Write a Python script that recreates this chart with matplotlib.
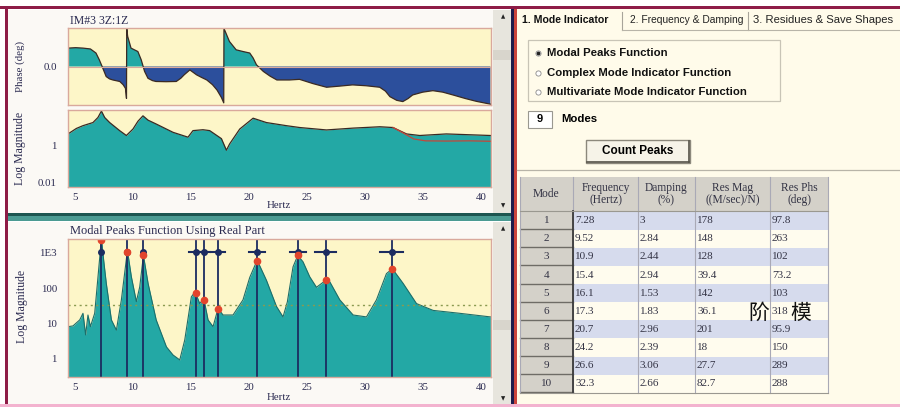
import matplotlib
matplotlib.use("Agg")
import numpy as np
import matplotlib.pyplot as plt
from matplotlib.patches import Rectangle

W, H = 900, 407

# ---- curves (Hz, value) ----
phase_hz = [4.4, 5.06, 5.69, 6.33, 6.81, 7.1, 7.4, 7.69, 7.98, 8.27, 8.86, 9.15,
            9.35, 9.44, 9.46, 9.54, 9.83, 10.12, 10.42, 10.71, 11.0, 11.29, 11.68,
            11.98, 12.85, 13.73, 14.12, 14.41, 14.9, 15.48, 15.87, 16.36, 16.85,
            17.24, 17.62, 17.82, 17.84, 18.01, 18.31, 18.89, 19.48, 20.06, 20.35,
            20.64, 21.23, 21.81, 22.4, 23.47, 24.35, 25.51, 26.68, 27.75, 28.92,
            30.09, 31.26, 31.75, 32.14, 32.72, 33.25, 33.7, 34.1, 34.96, 35.84,
            36.7, 37.57, 38.66, 39.6, 40.8]
phase_deg = [86, 88, 86, 82, 63, 31, -8, -47, -58, -63, -70, -85,
             -102, -149, 180, 141, 86, 78, 70, 31, -23, -55, -66,
             -70, -71, -70, -55, -39, -16, -39, -50, -63, -85,
             -110, -145, -170, 178, 156, 117, 78, 70, 63, 40,
             8, -23, -45, -63, -63, -60, -80, -97, -92, -86,
             -90, -97, -115, -141, -158, -164, -150, -133, -120, -113,
             -120, -133, -150, -163, -176]

mag_hz = [4.4, 5.12, 5.69, 6.55, 6.98, 7.28, 7.56, 7.99, 8.85, 9.43, 10.0, 10.43,
          10.86, 11.3, 12.0, 13.45, 14.74, 15.17, 16.03, 16.61, 17.62, 18.05,
          18.33, 19.2, 20.35, 21.5, 23.22, 24.37, 26.67, 28.97, 31.27, 32.41,
          33.57, 34.71, 37.0, 40.8]
mag_val = [4.5, 8.9, 12.6, 18.6, 35, 78, 35, 18.6, 6.8, 3.7, 8.3, 22,
           43, 25, 15.5, 5.5, 3.0, 6.8, 7.6, 6.8, 2.5, 0.59,
           1.3, 8.3, 32, 18.6, 12.6, 10, 7.4, 9.3, 11, 10,
           4.5, 3.7, 4.5, 3.7]
fit_hz = [32.41, 33.3, 34.2, 35.2, 37.0, 39.0, 40.8]
fit_val = [10, 5.0, 2.4, 1.9, 1.85, 1.9, 1.8]

mpf_hz = [4.4, 4.83, 5.41, 5.69, 5.92, 6.12, 6.33, 6.7, 6.98, 7.28, 7.47, 7.7,
          8.14, 8.57, 9.0, 9.52, 9.86, 10.29, 10.58, 10.9, 11.3, 12.0, 12.88,
          13.45, 14.03, 14.46, 15.03, 15.35, 15.75, 16.1, 16.47, 16.9, 17.33,
          17.76, 18.62, 19.48, 20.06, 20.7, 21.5, 22.36, 22.93, 23.3, 23.79,
          24.2, 24.65, 25.23, 25.81, 26.55, 26.96, 27.82, 28.97, 30.12, 30.98,
          31.84, 32.35, 33.28, 34.43, 35.86, 38.16, 40.8]
mpf_val = [7.9, 8.3, 12.3, 19, 4.6, 17, 7.9, 19, 200, 2570, 630, 135,
           12.3, 6.3, 46, 1175, 209, 41, 107, 850, 135, 12.3, 2.1,
           1.23, 0.89, 3.3, 56, 78, 36, 50, 12.3, 7.9, 26,
           17, 17, 46, 200, 620, 166, 30, 15, 40, 400,
           850, 560, 209, 105, 160, 150, 46, 17, 15, 46,
           257, 355, 135, 36, 23, 19, 15]

# ---- modes table ----
mode_no = [1, 2, 3, 4, 5, 6, 7, 8, 9, 10]
mode_freq = [7.28, 9.52, 10.9, 15.4, 16.1, 17.3, 20.7, 24.2, 26.6, 32.3]
mode_damp = [3, 2.84, 2.44, 2.94, 1.53, 1.83, 2.96, 2.39, 3.06, 2.66]
mode_resmag = [178, 148, 128, 39.4, 142, 36.1, 201, 18, 27.7, 82.7]
mode_resphs = [97.8, 263, 102, 73.2, 103, 318, 95.9, 150, 289, 288]
peak_mag = [2400, 1070, 850, 73, 47, 25, 580, 860, 167, 355]
peak_halfwidth = [0, 0, 0, 0.6, 0.5, 0.6, 0.7, 0.7, 0.9, 1.0]
peak_level = 1070
threshold = 32

hz_ticks = [5, 10, 15, 20, 25, 30, 35, 40]
mag_ticks = [0.01, 1]
mag_labels = ["0.01", "1"]
mpf_ticks = [1, 10, 100, 1000]
mpf_labels = ["1", "10", "100", "1E3"]
headers = ["Mode", "Frequency\n(Hertz)", "Damping\n(%)", "Res Mag\n((M/sec)/N)", "Res Phs\n(deg)"]

TEAL = "#23a8a5"
BLUE = "#2c4f9c"
CREAM = "#fdf6c8"
EDGE = "#d9a99c"
LINE = "#3a2a24"
NAVY = "#1c2c60"
TXT = "#2a2a50"
SERIF = "Liberation Serif"
SANS = "Liberation Sans"

fig = plt.figure(figsize=(9, 4.07), dpi=100)
fig.patch.set_facecolor("white")


def px_axes(x0, y0, x1, y1):
    return fig.add_axes([x0 / W, 1 - y1 / H, (x1 - x0) / W, (y1 - y0) / H])


# ---- window chrome in pixel coordinates ----
ui = fig.add_axes([0, 0, 1, 1])
ui.set_xlim(0, W)
ui.set_ylim(H, 0)
ui.axis("off")


def rect(x, y, w, h, fc, ec="none", lw=0.8, z=1):
    ui.add_patch(Rectangle((x, y), w, h, facecolor=fc, edgecolor=ec, linewidth=lw, zorder=z))


rect(8, 10, 485, 203, "#fbf9f5")
rect(8, 222, 485, 183, "#fbf9f5")
rect(493, 10, 19, 203, "#e7e5dd")
rect(493, 222, 19, 183, "#e7e5dd")
rect(493, 50, 19, 10, "#d8d5cc")
rect(493, 320, 19, 10, "#d8d5cc")
for yy, s in [(17, "▲"), (206, "▼"), (229, "▲"), (399, "▼")]:
    ui.text(503, yy, s, fontsize=4, ha="center", va="center", color="#222222", zorder=3)
rect(8, 213, 505, 3, "#1d5650")
rect(8, 216, 505, 5, "#4b9b92")
rect(0, 6, W, 3, "#8e1c47", z=4)
rect(5, 6, 3, 401, "#8e1c47", z=4)
rect(511, 9, 3, 398, "#1c1c4c", z=4)
rect(514, 9, 3, 398, "#c9443c", z=4)
rect(517, 9, 383, 398, "#fffbea")
rect(0, 404, W, 3, "#f3b3cf", z=4)

ui.text(70, 21, "IM#3 3Z:1Z", fontsize=8.5, family=SERIF, color=TXT, va="center")
ui.text(70, 231, "Modal Peaks Function Using Real Part", fontsize=9, family=SERIF,
        color=TXT, va="center")
ui.text(20, 66, "Phase (deg)", rotation=90, fontsize=7.8, family=SERIF, color=TXT,
        ha="center", va="center")
ui.text(20, 148, "Log Magnitude", rotation=90, fontsize=8.5, family=SERIF, color=TXT,
        ha="center", va="center")
ui.text(22, 306, "Log Magnitude", rotation=90, fontsize=8.5, family=SERIF, color=TXT,
        ha="center", va="center")
ui.text(279, 206, "Hertz", fontsize=7.8, family=SERIF, color=TXT, ha="center", va="center")
ui.text(279, 398, "Hertz", fontsize=7.8, family=SERIF, color=TXT, ha="center", va="center")


def style(ax):
    ax.set_facecolor(CREAM)
    for sp in ax.spines.values():
        sp.set_color(EDGE)
        sp.set_linewidth(1.0)
    ax.tick_params(length=0, labelsize=7.8, colors=TXT)
    ax.tick_params(axis="x", pad=4)
    ax.tick_params(axis="y", pad=8)
    for lab in ax.get_xticklabels() + ax.get_yticklabels():
        lab.set_family(SERIF)
    ax.set_xlim(4.4, 40.85)


# ---- phase ----
ph = np.array(phase_deg)
ax1 = px_axes(68, 28, 491, 105)
ax1.fill_between(phase_hz, ph, 0, where=ph >= 0, interpolate=True, color=TEAL, lw=0)
ax1.fill_between(phase_hz, ph, 0, where=ph <= 0, interpolate=True, color=BLUE, lw=0)
ax1.plot(phase_hz, ph, color=LINE, lw=0.9)
ax1.axhline(0, color=EDGE, lw=0.8)
ax1.set_ylim(-180, 180)
ax1.set_xticks([])
ax1.set_yticks([0], ["0.0"])
style(ax1)

# ---- magnitude ----
ax2 = px_axes(68, 110, 491, 187)
ax2.set_yscale("log")
ax2.fill_between(mag_hz, mag_val, 1e-4, color=TEAL, lw=0)
ax2.plot(mag_hz, mag_val, color=LINE, lw=0.9)
ax2.plot(fit_hz, fit_val, color="#c4473a", lw=0.9)
ax2.set_ylim(0.006, 89)
ax2.set_xticks(hz_ticks, [str(t) for t in hz_ticks])
ax2.set_yticks(mag_ticks, mag_labels)
ax2.minorticks_off()
style(ax2)

# ---- modal peaks function ----
ax3 = px_axes(68, 239, 491, 377)
ax3.set_yscale("log")
ax3.fill_between(mpf_hz, mpf_val, 1e-3, color=TEAL, lw=0)
ax3.plot(mpf_hz, mpf_val, color="#1d6e6a", lw=0.8)
ax3.axhline(threshold, color="#8a9a50", lw=1.0, ls=(0, (1.5, 2.5)))
for f, pk, hw in zip(mode_freq, peak_mag, peak_halfwidth):
    ax3.axvline(f, color=NAVY, lw=1.3)
    if hw > 0:
        ax3.plot([f - hw, f + hw], [peak_level, peak_level], color=NAVY, lw=1.5)
    ax3.plot(f, peak_level, "o", color=NAVY, ms=4)
    ax3.plot(f, pk, "o", color="#e2452c", ms=4.5)
ax3.set_ylim(0.29, 2500)
ax3.set_xticks(hz_ticks, [str(t) for t in hz_ticks])
ax3.set_yticks(mpf_ticks, mpf_labels)
ax3.minorticks_off()
style(ax3)

# ---- right panel: tabs, options ----
ui.text(522, 20, "1. Mode Indicator", fontsize=7.6, family=SANS, weight="bold", color="#111111",
        va="center", zorder=5)
ui.text(630, 20, "2. Frequency & Damping", fontsize=7.4, family=SANS, color="#222222",
        va="center", zorder=5)
ui.text(753, 20, "3. Residues & Save Shapes", fontsize=8.1, family=SANS, color="#222222",
        va="center", zorder=5)
ui.plot([622, 622], [12, 30], color="#a8a49a", lw=0.8, zorder=5)
ui.plot([748, 748], [12, 30], color="#a8a49a", lw=0.8, zorder=5)
ui.plot([622, 900], [30, 30], color="#b8b4a8", lw=0.8, zorder=5)
rect(528, 40, 252, 61, "none", ec="#c8c4b6", lw=0.9, z=5)
radio = ["Modal Peaks Function", "Complex Mode Indicator Function",
         "Multivariate Mode Indicator Function"]
for i, s in enumerate(radio):
    yy = 53 + i * 19.5
    ui.scatter([538], [yy], s=14, facecolor="white", edgecolor="#8a8a8a", lw=0.6, zorder=6)
    if i == 0:
        ui.scatter([538], [yy], s=3, color="#222222", zorder=7)
    ui.text(547, yy, s, fontsize=8.2, family=SANS, weight="bold", color="#111111",
            va="center", zorder=6)
rect(528, 111, 24, 17, "white", ec="#9a9890", lw=0.8, z=5)
ui.text(540, 119.5, "9", fontsize=8, family=SANS, weight="bold", ha="center", va="center", zorder=6)
ui.text(561, 119.5, "Modes", fontsize=8.2, family=SANS, weight="bold", va="center", zorder=6)
rect(586, 140, 104, 23, "#f6f3e8", ec="#8c887c", lw=1.0, z=5)
ui.plot([587, 689], [162, 162], color="#555248", lw=1.2, zorder=6)
ui.plot([689, 689], [141, 162], color="#555248", lw=1.2, zorder=6)
ui.text(638, 151, "Count Peaks", fontsize=8.5, family=SANS, weight="bold", ha="center",
        va="center", zorder=6)
ui.plot([517, 900], [170, 170], color="#b8b4a8", lw=0.9, zorder=5)

# ---- modes table ----
col_x = [520, 573, 638, 695, 770, 828]
row_top, row_h = 211.7, 18.1
rect(520, 177, 308, 34.7, "#d4d1c9", z=5)
for j, h in enumerate(headers):
    ui.text((col_x[j] + col_x[j + 1]) / 2, 194, h, fontsize=8.3, family=SERIF, color="#333344",
            ha="center", va="center", linespacing=1.1, zorder=7)
columns = [mode_freq, mode_damp, mode_resmag, mode_resphs]
for i, m in enumerate(mode_no):
    y0 = row_top + i * row_h
    rect(573, y0, 255, row_h, "#d6dbed" if i % 2 == 0 else "#fffcee", z=5)
    rect(520, y0, 53, row_h, "#d4d1c9", z=5)
    ui.plot([520, 573], [y0 + row_h - 0.6, y0 + row_h - 0.6], color="#6e6c66", lw=1.0, zorder=6)
    ui.text(546.5, y0 + row_h / 2, str(m), fontsize=8, family=SERIF, color="#333344",
            ha="center", va="center", zorder=7)
    for j, col in enumerate(columns):
        ui.text(col_x[j + 1] + 2, y0 + row_h / 2, f"{col[i]:g}", fontsize=8, family=SERIF,
                color="#333344", va="center", zorder=7)
for xx in col_x:
    ui.plot([xx, xx], [177, row_top + 10 * row_h], color="#a9a9b6", lw=0.8, zorder=6)
ui.plot([573, 573], [211, row_top + 10 * row_h], color="#3a3a3a", lw=1.3, zorder=6)
ui.plot([520, 828], [211, 211], color="#9a9890", lw=0.8, zorder=6)
ui.plot([520, 828], [row_top + 10 * row_h, row_top + 10 * row_h], color="#9a9890", lw=0.8, zorder=6)

cjk = ["Noto Sans CJK SC", "DejaVu Sans"]
ui.text(759, 313, "阶", fontsize=15, family=cjk, color="#111111", ha="center", va="center", zorder=9)
ui.text(801, 313, "模", fontsize=15, family=cjk, color="#111111", ha="center", va="center", zorder=9)

fig.savefig("out.png", dpi=100)
